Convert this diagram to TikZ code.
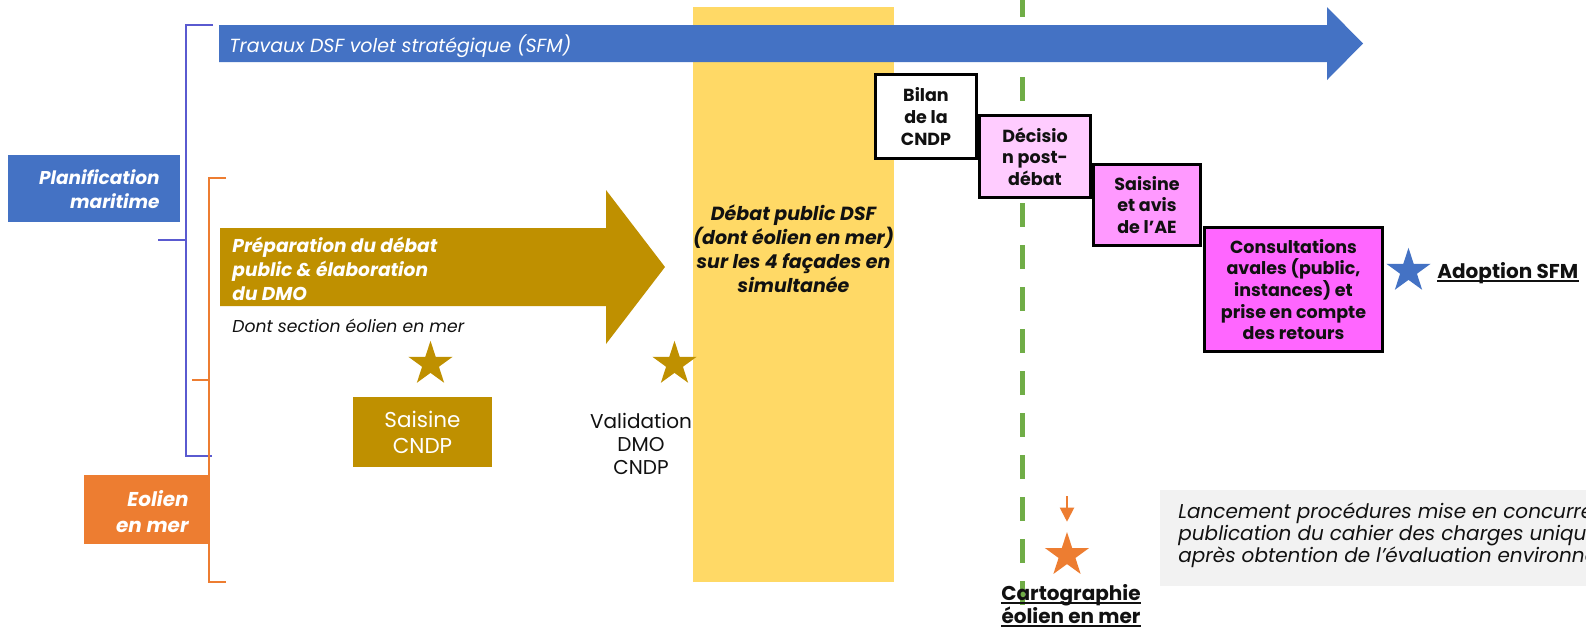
\documentclass[tikz,border=0pt]{standalone}
\usepackage{fontspec}
\setmainfont{Poppins}
\usetikzlibrary{shapes.geometric,arrows.meta}
\definecolor{cblue}{HTML}{4472C4}
\definecolor{cbrk}{HTML}{5A5AD0}
\definecolor{corange}{HTML}{ED7D31}
\definecolor{cgold}{HTML}{BF9000}
\definecolor{cyellow}{HTML}{FFD966}
\definecolor{cgreen}{HTML}{70AD47}
\definecolor{cpinka}{HTML}{FFCCFF}
\definecolor{cpinkb}{HTML}{FF99FF}
\definecolor{cpinkc}{HTML}{FF66FF}
\definecolor{cgray}{HTML}{F2F2F2}
\definecolor{ctext}{HTML}{111111}
\tikzset{
  brk/.style={line width=1pt},
  procbox/.style={rectangle, draw=black, line width=1.5pt, inner sep=0pt, align=center, text=ctext,
    font=\bfseries\fontsize{8.75pt}{10.85pt}\selectfont},
  mystar/.style={star, star points=5, star point ratio=2.618, minimum size=23.2pt, inner sep=0pt, fill=#1, draw=none},
  txt/.style={inner sep=0pt, text=ctext},
  wtxt/.style={inner sep=0pt, text=white},
  plain/.style={rectangle, inner sep=0pt, draw=none},
  uline/.style={line width=1pt, ctext}
}
\begin{document}
\begin{tikzpicture}[x=0.5pt,y=-0.5pt]
\useasboundingbox (0,0) rectangle (1586,629);
\fill[white] (0,0) rectangle (1586,629);

% yellow band
\node[plain, fill=cyellow, minimum width=100.5pt, minimum height=287.5pt] (band) at (793.5,294.5) {};

% green dashed line
\coordinate (gtop) at (1022,-7);
\coordinate (gbot) at (1022,605);
\draw[cgreen, line width=2.5pt, dash pattern=on 12pt off 9pt] (gtop) -- (gbot);

% blue top arrow
\fill[cblue] (219,25) -- (1327,25) -- (1327,7) -- (1363,43.5) -- (1327,80) -- (1327,62) -- (219,62) -- cycle;
\node[wtxt, anchor=base west, font=\itshape\fontsize{9.5pt}{11pt}\selectfont] (trav) at (229,52) {Travaux DSF volet stratégique (SFM)};

% brackets
\draw[brk, cbrk] (213,25) -- (186,25) -- (186,456) -- (212,456);
\draw[brk, cbrk] (158,240) -- (186,240);
\draw[brk, corange] (226,178) -- (209,178) -- (209,582) -- (226,582);
\draw[brk, corange] (192,380) -- (209,380);

% label boxes
\node[plain, fill=cblue, minimum width=86pt, minimum height=33.5pt] (pmbox) at (94,188.5) {};
\node[wtxt, anchor=east, align=right, font=\bfseries\itshape\fontsize{9.25pt}{12pt}\selectfont] (pmtxt) at (160,189) {Planification\\maritime};
\node[plain, fill=corange, minimum width=62.5pt, minimum height=34.5pt] (eobox) at (146.5,509.5) {};
\node[wtxt, anchor=east, align=right, font=\bfseries\itshape\fontsize{10pt}{13pt}\selectfont] (eotxt) at (189,511.6) {Eolien\\en mer};

% gold arrow
\fill[cgold] (220,228) -- (606,228) -- (606,190) -- (665,267) -- (606,344) -- (606,306) -- (220,306) -- cycle;
\node[wtxt, anchor=west, align=left, font=\bfseries\itshape\fontsize{9.3pt}{12pt}\selectfont] (prep) at (232,268.6) {Préparation du débat\\public \& élaboration\\du DMO};
\node[txt, anchor=base west, font=\itshape\fontsize{8.6pt}{10pt}\selectfont] (dont) at (232,332) {Dont section éolien en mer};

% gold stars, Saisine, Validation
\node[mystar=cgold] (st1) at (430.5,364) {};
\node[mystar=cgold] (st2) at (674.5,364) {};
\node[plain, fill=cgold, text=white, minimum width=69.5pt, minimum height=35pt, align=center,
  font=\fontsize{10.75pt}{13pt}\selectfont] (saisc) at (422.5,432) {Saisine\\CNDP};
\node[txt, align=center, font=\fontsize{10pt}{11.5pt}\selectfont] (valid) at (641,443.6) {Validation\\DMO\\CNDP};

% debat text
\node[txt, align=center, font=\bfseries\itshape\fontsize{9.5pt}{12pt}\selectfont] (debat) at (793.5,249) {Débat public DSF\\(dont éolien en mer)\\sur les 4 façades en\\simultanée};

% process boxes
\node[procbox, fill=white, minimum width=50.5pt, minimum height=42pt] (bilan) at (926,116.5) {Bilan\\de la\\CNDP};
\node[procbox, fill=cpinka, minimum width=55.5pt, minimum height=41pt] (decis) at (1035,156.5) {Décisio\\n post-\\débat};
\node[procbox, fill=cpinkb, minimum width=53.5pt, minimum height=40.5pt] (saisae) at (1147,205) {Saisine\\et avis\\de l’AE};
\node[procbox, fill=cpinkc, minimum width=89pt, minimum height=62pt] (consult) at (1293.5,289.5) {Consultations\\avales (public,\\instances) et\\prise en compte\\des retours};

% adoption
\node[mystar=cblue] (st3) at (1408.5,271) {};
\node[txt, anchor=base west, font=\bfseries\fontsize{10pt}{12pt}\selectfont] (adop) at (1437,278) {Adoption SFM};
\draw[uline] ([yshift=-1.4pt]adop.base west) -- ([yshift=-1.4pt]adop.base east);

% cartographie
\node[mystar=corange] (st4) at (1067,555.2) {};
\coordinate (oarr) at (1067,496);
\draw[corange, line width=1pt, -{Triangle[width=7pt,length=7pt]}, shorten >=4.5pt] (oarr) -- (st4.north);
\node[txt, anchor=base, font=\bfseries\fontsize{10pt}{12pt}\selectfont] (carto) at (1071,600) {Cartographie};
\node[txt, anchor=base, font=\bfseries\fontsize{10pt}{12pt}\selectfont] (cartob) at (1071,623) {éolien en mer};
\draw[uline] ([yshift=-1.3pt]carto.base west) -- ([yshift=-1.3pt]carto.base east);
\draw[uline] ([yshift=-1.3pt]cartob.base west) -- ([yshift=-1.3pt]cartob.base east);

% grey note
\node[plain, fill=cgray, minimum width=220pt, minimum height=48pt] (note) at (1380,538) {};
\node[txt, anchor=west, align=left, font=\itshape\fontsize{10pt}{11pt}\selectfont] (lanc) at (1178,535.5) {Lancement procédures mise en concurre\\publication du cahier des charges unique\\après obtention de l’évaluation environne};
\end{tikzpicture}
\end{document}
